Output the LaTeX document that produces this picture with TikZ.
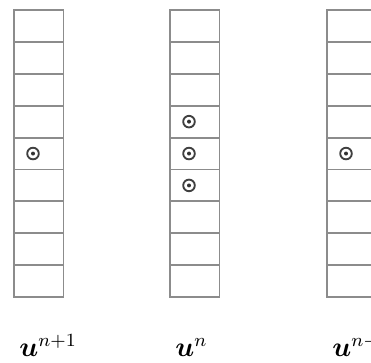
\documentclass[tikz,border=0pt]{standalone}
\usepackage{amsmath}
\usepackage{amssymb}

\begin{document}
\begin{tikzpicture}[x=0.43pt, y=-0.43pt,
		cellline/.style={draw=gray!90, line width=0.85pt},
		stencil/.style={draw=black!75, line width=0.8pt}]

		\def\ncell{9}
		\def\cw{49.5}  \def\ch{31.9} % width and height of one cell
		\def\ytop{10}
		\def\dotx{19} % distance of the marks from the left side of a column

		% keep the frame of the reference (the last column runs off it)
		\useasboundingbox[fill=white] (0,0) rectangle (371,363);

		% columns: left side / label / marked cells
		\foreach \xl/\lab/\marks in {14/{n+1}/{5}, 170/{n}/{4,5,6}, 327/{n-1}/{5}} {

			% stack of cells
			\foreach \k in {1,...,\ncell} {
				\pgfmathsetmacro{\yk}{\ytop + (\k-1)*\ch}
				\draw[cellline] (\xl,\yk) rectangle ++(\cw,\ch);
			}

			% marks in the cells of the stencil
			\foreach \m in \marks {
				\pgfmathsetmacro{\ym}{\ytop + (\m-0.5)*\ch}
				\draw[stencil] (\xl+\dotx,\ym) circle (5.8);
				\fill[black!80] (\xl+\dotx,\ym) circle (2);
			}

			% time level below the column
			\node[anchor=base west, inner sep=0pt, font=\large] (lab\xl) at (\xl+5,357) {$\boldsymbol{u}^{\lab}$};
		}

	\end{tikzpicture}
\end{document}
